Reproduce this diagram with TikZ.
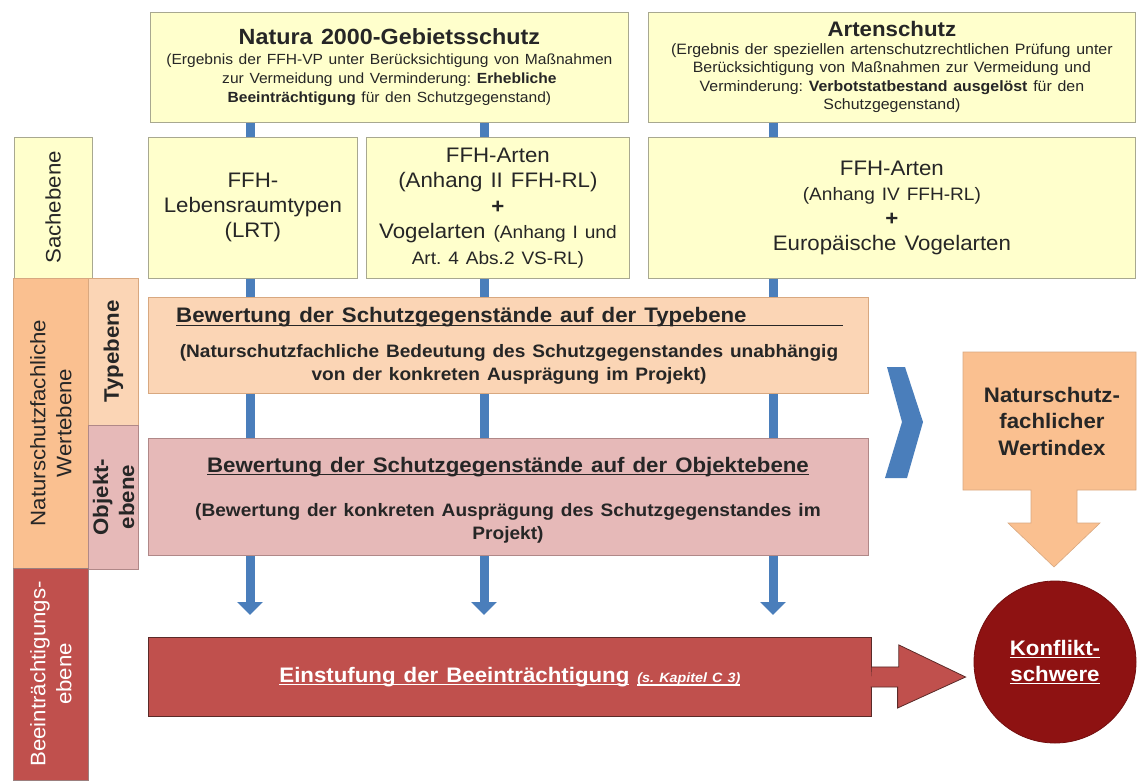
\documentclass[tikz,border=0pt]{standalone}
\usepackage{fontspec}
\setmainfont{Liberation Sans}[FakeStretch=1.06,WordSpace=1.3]
\usetikzlibrary{arrows.meta,backgrounds,calc}
\definecolor{ylw}{HTML}{FFFFCC}
\definecolor{ylwline}{HTML}{A8A890}
\definecolor{orgA}{HTML}{FBD5B5}
\definecolor{orgB}{HTML}{FAC090}
\definecolor{orgline}{HTML}{D8A880}
\definecolor{pnk}{HTML}{E6B9B8}
\definecolor{pnkline}{HTML}{B08888}
\definecolor{rd}{HTML}{C0504D}
\definecolor{rdline}{HTML}{5A2A28}
\definecolor{drd}{HTML}{8E1212}
\definecolor{blu}{HTML}{4A7EBB}
\definecolor{txt}{HTML}{262626}
\newcommand\fsz[2]{\fontsize{#1pt}{#2pt}\selectfont}
\newcommand\nsp{\spaceskip=\fontdimen2\font\xspaceskip=\fontdimen2\font\relax}
\newcommand\myul[2][3pt]{\setbox0\hbox{#2}\rlap{\rule[-#1]{\wd0}{1.2pt}}\box0}
\begin{document}
\begin{tikzpicture}[x=1pt,y=-1pt,
  ybox/.style={draw=ylwline, fill=ylw, line width=0.8pt, inner sep=0pt, text=txt, align=center},
  obox/.style={draw=orgline, fill=orgA, line width=0.8pt, inner sep=0pt, text=txt},
  pbox/.style={draw=pnkline, fill=pnk, line width=0.8pt, inner sep=0pt, text=txt},
  rbox/.style={draw=rdline, fill=rd, line width=0.8pt, inner sep=0pt, text=white},
  lab/.style={line width=0.8pt, inner sep=0pt, align=center, rotate=90, font=\fsz{21}{26}},
  plain/.style={inner sep=0pt, align=center, text=txt},
  blueline/.style={blu, line width=9pt, -{Triangle[width=25pt,length=13pt]}},
]
\useasboundingbox (0,0) rectangle (1137,780);

% top boxes
\node[ybox, anchor=north west, minimum width=478pt, minimum height=110pt, text width=470pt] (natura) at (150,12)
 {{\fsz{22}{26}\bfseries\nsp Natura 2000-Gebietsschutz\par}\vskip1pt
  {\fsz{14.7}{19}\nsp(Ergebnis der FFH-VP unter Berücksichtigung von Maßnahmen\\ zur Vermeidung und Verminderung: \textbf{Erhebliche}\\ \textbf{Beeinträchtigung} für den Schutzgegenstand)\par}};
\node[ybox, anchor=north west, minimum width=487pt, minimum height=110pt, text width=480pt] (arten) at (648,12)
 {{\fsz{21}{26}\bfseries\nsp Artenschutz\par}\vskip-1pt
  {\fsz{15}{18.5}\nsp(Ergebnis der speziellen artenschutzrechtlichen Prüfung unter\\ Berücksichtigung von Maßnahmen zur Vermeidung und\\ Verminderung: \textbf{Verbotstatbestand ausgelöst} für den\\ Schutzgegenstand)\par}};

% Sachebene boxes
\node[ybox, anchor=north west, minimum width=209pt, minimum height=141pt, text width=205pt] (lrt) at (148,137)
 {\fsz{21}{25}\nsp FFH-\\ Lebensraumtypen\\ (LRT)\par};
\node[ybox, anchor=north west, minimum width=263pt, minimum height=141pt, text width=258pt] (ffh) at (366,137)
 {\fsz{21}{25.5}\nsp FFH-Arten\\ (Anhang II FFH-RL)\\ \textbf{+}\\ Vogelarten {\fsz{18}{25.5}\nsp(Anhang I und}\\ {\fsz{18}{25.5}\nsp Art. 4 Abs.2 VS-RL)}\par};
\node[ybox, anchor=north west, minimum width=487pt, minimum height=141pt, text width=480pt] (eur) at (648,137)
 {\fsz{21}{25}\nsp FFH-Arten\\ {\fsz{18}{25}\nsp(Anhang IV FFH-RL)}\\ \textbf{+}\\ Europäische Vogelarten\par};

% Typebene box
\node[obox, anchor=north west, minimum width=720pt, minimum height=96pt] (typ) at (148,297) {};
\node[plain, anchor=base west, font=\fsz{21}{26}\bfseries] (typtitle) at (176,322) {Bewertung der Schutzgegenstände auf der Typebene};
\node[plain, font=\fsz{18}{23}\bfseries] (typsub) at (509,364)
 {(Naturschutzfachliche Bedeutung des Schutzgegenstandes unabhängig\\ von der konkreten Ausprägung im Projekt)};

% Objektebene box
\node[pbox, anchor=north west, minimum width=720pt, minimum height=117pt] (obj) at (148,438) {};
\node[plain, font=\fsz{21}{26}\bfseries] (objtitle) at (508,467) {\myul{Bewertung der Schutzgegenstände auf der Objektebene}};
\node[plain, font=\fsz{18}{23}\bfseries] (objsub) at (508,523)
 {(Bewertung der konkreten Ausprägung des Schutzgegenstandes im\\ Projekt)};

% Einstufung box
\node[rbox, anchor=north west, minimum width=723pt, minimum height=79pt] (einst) at (148,637)
 {\fsz{21}{26}\bfseries\myul{Einstufung der Beeinträchtigung}\hspace{8pt}{\fsz{13.5}{14}\itshape\myul[3.3pt]{(s.\ Kapitel C 3)}}};

% Konfliktschwere
\node[circle, fill=drd, draw=drd!80!black, line width=0.8pt, minimum size=162pt, inner sep=0pt, text=white, align=center,
      font=\fsz{21}{26}\bfseries] (konf) at (1055,662) {\myul{Konflikt-}\\ \myul{schwere}};

% Wertindex
\node[plain, font=\fsz{21}{26.5}\bfseries] (wert) at (1052,421) {Naturschutz-\\ fachlicher\\ Wertindex};

% left labels
\node[lab, draw=ylwline, fill=ylw, text=txt, minimum width=141pt, minimum height=78pt] (sach) at (53,207.5) {Sachebene};
\node[lab, draw=orgline, fill=orgB, text=txt, minimum width=290pt, minimum height=75.5pt] (wertl) at (50.75,423) {Naturschutzfachliche\\ Wertebene};
\node[lab, draw=orgline, fill=orgA, text=txt, minimum width=147pt, minimum height=50pt, font=\fsz{21}{26}\bfseries] (typl) at (113.5,351.5) {Typebene};
\node[lab, draw=pnkline, fill=pnk, text=txt, minimum width=144pt, minimum height=50pt, font=\fsz{21}{26}\bfseries] (objl) at (113.5,497) {Objekt-\\ ebene};
\node[lab, draw=rdline!60, fill=rd, text=white, minimum width=212pt, minimum height=75.5pt] (beel) at (50.75,674) {Beeinträchtigungs-\\ ebene};

% underline of type title
\draw[txt, line width=1.3pt] ([yshift=-3.5pt]typtitle.base west) -- ++(667,0);

% blue lines (behind)
\coordinate (e1) at (250,615);
\coordinate (e2) at (484,615);
\coordinate (e3) at (773,615);
\begin{scope}[on background layer]
\draw[blueline] (natura.south -| e1) -- (e1);
\draw[blueline] (natura.south -| e2) -- (e2);
\draw[blueline] (arten.south -| e3) -- (e3);
\end{scope}

% arrow from Einstufung to Konfliktschwere
\fill[rd, draw=rdline, line width=0.8pt]
  ($(einst.east)+(0,-10)$) -- ++(27,0) -- ++(0,-22) -- ($(konf.west)+(-8,15)$) -- ++(-68,31) -- ++(0,-21) -- ++(-27,0);

% Wertindex block arrow
\begin{scope}[on background layer]
\fill[orgB, draw=orgline, line width=0.6pt]
  (963,352) -- (1136,352) -- (1136,490) -- (1077,490) -- (1077,523) -- (1100,523) -- (1054,567)
  -- (1008,523) -- (1031,523) -- (1031,490) -- (963,490) -- cycle;
\end{scope}

% chevron
\fill[blu] (887,367) -- (905,367) -- (923,422) -- (907,478) -- (885,478) -- (902,422) -- cycle;
\end{tikzpicture}
\end{document}
